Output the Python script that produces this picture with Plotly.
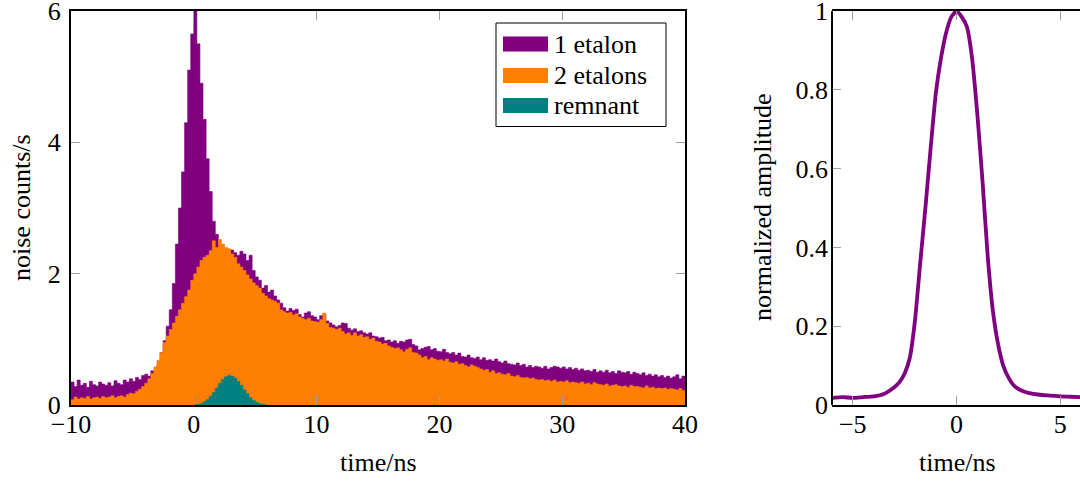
import plotly.graph_objects as go

# ---------------- data ----------------
bin_start = -10.0
bin_width = 0.25

one_etalon = [
    0.35, 0.28, 0.38, 0.30, 0.33, 0.27, 0.36, 0.31,   # -10 .. -8
    0.29, 0.35, 0.32, 0.30, 0.34, 0.29, 0.37, 0.33,   # -8 .. -6
    0.31, 0.38, 0.35, 0.40, 0.36, 0.42, 0.39, 0.45,   # -6 .. -4
    0.47, 0.44, 0.52, 0.50, 0.62, 0.80, 0.98, 1.20,   # -4 .. -2
    1.45, 1.85, 2.45, 3.00, 3.55, 4.30, 5.10, 5.65,   # -2 .. 0
    6.00, 5.50, 4.90, 4.35, 3.75, 3.25, 2.80, 2.60,   # 0 .. 2
    2.45, 2.35, 2.38, 2.30, 2.36, 2.32, 2.28, 2.34,   # 2 .. 4
    2.30, 2.20, 2.28, 2.05, 1.95, 1.90, 1.78, 1.82,   # 4 .. 6
    1.72, 1.75, 1.66, 1.60, 1.55, 1.48, 1.43, 1.47,   # 6 .. 8
    1.44, 1.46, 1.38, 1.34, 1.40, 1.42, 1.36, 1.34,   # 8 .. 10
    1.30, 1.36, 1.38, 1.28, 1.25, 1.22, 1.19, 1.21,   # 10 .. 12
    1.25, 1.24, 1.17, 1.14, 1.16, 1.12, 1.13, 1.10,   # 12 .. 14
    1.08, 1.10, 1.05, 1.04, 1.02, 1.03, 0.98, 0.99,   # 14 .. 16
    0.96, 0.98, 0.94, 0.97, 0.96, 0.99, 1.00, 0.92,   # 16 .. 18
    0.90, 0.84, 0.86, 0.88, 0.89, 0.84, 0.86, 0.82,   # 18 .. 20
    0.81, 0.85, 0.80, 0.78, 0.80, 0.76, 0.79, 0.74,   # 20 .. 22
    0.73, 0.76, 0.72, 0.71, 0.73, 0.69, 0.72, 0.68,   # 22 .. 24
    0.69, 0.67, 0.70, 0.66, 0.64, 0.67, 0.63, 0.62,   # 24 .. 26
    0.61, 0.64, 0.60, 0.62, 0.58, 0.60, 0.57, 0.59,   # 26 .. 28
    0.58, 0.56, 0.59, 0.55, 0.57, 0.59, 0.58, 0.56,   # 28 .. 30
    0.58, 0.55, 0.57, 0.54, 0.56, 0.53, 0.55, 0.52,   # 30 .. 32
    0.53, 0.51, 0.54, 0.50, 0.52, 0.50, 0.53, 0.49,   # 32 .. 34
    0.51, 0.48, 0.52, 0.50, 0.49, 0.51, 0.47, 0.50,   # 34 .. 36
    0.48, 0.46, 0.49, 0.45, 0.47, 0.44, 0.46, 0.43,   # 36 .. 38
    0.45, 0.42, 0.44, 0.41, 0.43, 0.46, 0.40, 0.44,   # 38 .. 40
]

two_etalons = [
    0.08, 0.12, 0.09, 0.11, 0.10, 0.13, 0.09, 0.11,   # -10 .. -8
    0.12, 0.10, 0.13, 0.11, 0.12, 0.14, 0.11, 0.13,   # -8 .. -6
    0.14, 0.12, 0.16, 0.18, 0.17, 0.21, 0.24, 0.28,   # -6 .. -4
    0.33, 0.40, 0.48, 0.58, 0.68, 0.80, 0.95, 1.05,   # -4 .. -2
    1.15, 1.25, 1.35, 1.45, 1.55, 1.65, 1.75, 1.90,   # -2 .. 0
    2.00, 2.10, 2.20, 2.25, 2.28, 2.35, 2.50, 2.40,   # 0 .. 2
    2.52, 2.45, 2.40, 2.38, 2.30, 2.25, 2.15, 2.10,   # 2 .. 4
    2.05, 1.98, 1.92, 1.86, 1.82, 1.78, 1.70, 1.66,   # 4 .. 6
    1.62, 1.60, 1.58, 1.55, 1.45, 1.42, 1.40, 1.41,   # 6 .. 8
    1.37, 1.39, 1.34, 1.32, 1.30, 1.32, 1.28, 1.27,   # 8 .. 10
    1.26, 1.30, 1.40, 1.24, 1.18, 1.17, 1.15, 1.17,   # 10 .. 12
    1.12, 1.08, 1.10, 1.06, 1.10, 1.05, 1.07, 1.03,   # 12 .. 14
    1.04, 1.00, 1.02, 0.97, 0.96, 0.93, 0.94, 0.90,   # 14 .. 16
    0.88, 0.86, 0.87, 0.84, 0.81, 0.85, 0.87, 0.80,   # 16 .. 18
    0.79, 0.76, 0.72, 0.74, 0.69, 0.72, 0.70, 0.68,   # 18 .. 20
    0.69, 0.67, 0.70, 0.65, 0.64, 0.66, 0.62, 0.63,   # 20 .. 22
    0.60, 0.58, 0.61, 0.59, 0.57, 0.55, 0.53, 0.54,   # 22 .. 24
    0.50, 0.52, 0.48, 0.49, 0.47, 0.46, 0.48, 0.44,   # 24 .. 26
    0.43, 0.45, 0.42, 0.41, 0.42, 0.40, 0.41, 0.39,   # 26 .. 28
    0.38, 0.39, 0.37, 0.38, 0.36, 0.38, 0.35, 0.36,   # 28 .. 30
    0.35, 0.37, 0.34, 0.35, 0.34, 0.33, 0.35, 0.32,   # 30 .. 32
    0.33, 0.31, 0.34, 0.32, 0.31, 0.30, 0.32, 0.29,   # 32 .. 34
    0.30, 0.31, 0.29, 0.28, 0.29, 0.27, 0.30, 0.28,   # 34 .. 36
    0.28, 0.27, 0.26, 0.29, 0.26, 0.27, 0.25, 0.26,   # 36 .. 38
    0.25, 0.26, 0.24, 0.25, 0.24, 0.23, 0.25, 0.22,   # 38 .. 40
]

remnant_start = 0.0
remnant = [
    0.00, 0.01, 0.02, 0.05, 0.08, 0.13, 0.19, 0.26,
    0.33, 0.39, 0.43, 0.45, 0.44, 0.41, 0.36, 0.30,
    0.23, 0.17, 0.11, 0.07, 0.04, 0.02, 0.01, 0.00,
]

pulse_t = [-6, -5.5, -5, -4.5, -4, -3.5, -3, -2.75, -2.5, -2.25, -2, -1.75,
           -1.5, -1.25, -1, -0.75, -0.5, -0.25, 0, 0.25, 0.5, 0.75, 1, 1.25,
           1.5, 1.75, 2, 2.25, 2.5, 2.75, 3, 3.5, 4, 4.5, 5, 5.5, 6]
pulse_a = [0.018, 0.020, 0.018, 0.020, 0.022, 0.028, 0.045, 0.058, 0.080,
           0.120, 0.215, 0.360, 0.500, 0.650, 0.790, 0.880, 0.945, 0.985,
           1.000, 0.985, 0.960, 0.880, 0.740, 0.570, 0.380, 0.240, 0.155,
           0.100, 0.070, 0.050, 0.040, 0.030, 0.026, 0.024, 0.022, 0.021, 0.020]

legend_names = ["1 etalon", "2 etalons", "remnant"]
colors = ["#800080", "#FF8000", "#008080"]

# ---------------- figure ----------------
W, H = 1080, 482
FONT = "'Liberation Serif', 'Times New Roman', Times, serif"
FS = 26

fig = go.Figure()


def step_trace(start, vals, color, name):
    xs = [start + i * bin_width for i in range(len(vals) + 1)]
    ys = list(vals) + [vals[-1]]
    return go.Scatter(x=xs, y=ys, mode="lines", line_shape="hv",
                      line=dict(color=color, width=0.6), fill="tozeroy",
                      fillcolor=color, name=name, xaxis="x", yaxis="y",
                      hoverinfo="skip")


fig.add_trace(step_trace(bin_start, one_etalon, colors[0], legend_names[0]))
fig.add_trace(step_trace(bin_start, two_etalons, colors[1], legend_names[1]))
fig.add_trace(step_trace(remnant_start, remnant, colors[2], legend_names[2]))

fig.add_trace(go.Scatter(x=pulse_t, y=pulse_a, mode="lines",
                         line=dict(color=colors[0], width=3.8, shape="spline", smoothing=0.5),
                         xaxis="x2", yaxis="y2", showlegend=False, cliponaxis=False))

y_dom = [1 - 405 / H, 1 - 11 / H]
x1_dom = [71 / W, 685 / W]
x2_dom = [832 / W, 1.0]

tickfont = dict(family=FONT, size=FS, color="black")
common = dict(showgrid=False, zeroline=False, ticks="inside", ticklen=9,
              tickwidth=1.2, tickcolor="#a0a0a0", showline=True,
              linecolor="black", linewidth=2, mirror="ticks",
              tickfont=tickfont, automargin=False, ticklabeloverflow="allow")

fig.update_layout(
    width=W, height=H,
    margin=dict(l=0, r=0, t=0, b=0, autoexpand=False),
    paper_bgcolor="white", plot_bgcolor="white",
    showlegend=False,
    font=dict(family=FONT, size=FS, color="black"),
    xaxis=dict(domain=x1_dom, range=[-10, 40], tickvals=[-10, 0, 10, 20, 30, 40],
               anchor="y", ticklabelstandoff=-5, **common),
    yaxis=dict(domain=y_dom, range=[0, 6], tickvals=[0, 2, 4, 6],
               anchor="x", ticklabelstandoff=3, **common),
    xaxis2=dict(domain=x2_dom, range=[-6, 5.95], tickvals=[-5, 0, 5],
                anchor="y2", ticklabelstandoff=-5, **common),
    yaxis2=dict(domain=y_dom, range=[0, 1], tickvals=[0, 0.2, 0.4, 0.6, 0.8, 1],
                ticktext=["0", "0.2", "0.4", "0.6", "0.8", "1"],
                anchor="x2", ticklabelstandoff=3,
                **{**common, "showline": False, "mirror": False}),
)

# left border of right panel (right border lies just outside the page)
fig.add_shape(type="line", xref="x2 domain", yref="y2 domain", x0=0, x1=0,
              y0=0, y1=1, line=dict(color="black", width=2))

# axis titles
ann = [
    dict(text="time/ns", x=(x1_dom[0] + x1_dom[1]) / 2, y=1 - 462 / H),
    dict(text="time/ns", x=957 / W, y=1 - 462 / H),
    dict(text="noise counts/s", x=21 / W, y=1 - 208 / H, textangle=-90),
    dict(text="normalized amplitude", x=762 / W, y=1 - 208 / H, textangle=-90),
]
for a in ann:
    fig.add_annotation(xref="paper", yref="paper", showarrow=False,
                       xanchor="center", yanchor="middle",
                       font=dict(family=FONT, size=FS, color="black"), **a)

# custom legend (box with wide colour swatches)
fig.add_shape(type="rect", xref="paper", yref="paper",
              x0=496 / W, x1=666 / W, y0=1 - 126.5 / H, y1=1 - 23 / H,
              line=dict(color="black", width=1), fillcolor="white")
row_y = [44, 75.5, 105.5]
for name, col, ry in zip(legend_names, colors, row_y):
    fig.add_shape(type="rect", xref="paper", yref="paper",
                  x0=503 / W, x1=548 / W, y0=1 - (ry + 7.5) / H, y1=1 - (ry - 7.5) / H,
                  line=dict(width=0), fillcolor=col)
    fig.add_annotation(xref="paper", yref="paper", showarrow=False,
                       x=552 / W, y=1 - ry / H, xanchor="left", yanchor="middle",
                       text=name, font=dict(family=FONT, size=FS, color="black"))

fig.write_html("out.html")
